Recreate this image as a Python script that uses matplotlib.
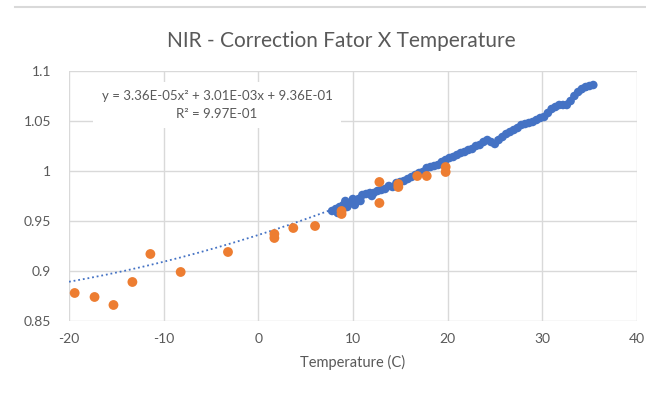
import numpy as np
from matplotlib import pyplot as plt

plt.rcParams['font.family'] = ['Lato', 'DejaVu Sans']
plt.rcParams['axes.unicode_minus'] = False

# blue series (dense measurements)
blue_t = [7.8, 8.2, 8.4, 8.6, 9.0, 9.2, 9.4, 9.8, 10.0, 10.2, 10.6, 10.8, 11.0, 11.4, 11.8,
          12.0, 12.2, 12.6, 13.0, 13.4, 13.8, 14.2, 14.6, 15.0, 15.4, 15.8, 16.2, 16.6,
          17.0, 17.4, 17.8, 18.2, 18.6, 19.0, 19.4, 19.8, 20.2, 20.6, 21.0, 21.4, 21.8,
          22.2, 22.6, 23.0, 23.4, 23.8, 24.2, 24.6, 25.0, 25.4, 25.8, 26.2, 26.6, 27.0,
          27.4, 27.8, 28.2, 28.6, 29.0, 29.4, 29.8, 30.2, 30.6, 31.0, 31.4, 31.8, 32.2,
          32.6, 33.0, 33.4, 33.8, 34.2, 34.6, 35.0, 35.4]
blue_v = [0.960, 0.962, 0.958, 0.964, 0.966, 0.970, 0.964, 0.968, 0.972, 0.966, 0.972, 0.970,
          0.976, 0.977, 0.978, 0.975, 0.978, 0.980, 0.981, 0.982, 0.985, 0.984, 0.988,
          0.989, 0.990, 0.992, 0.994, 0.996, 0.998, 0.999, 1.003, 1.004, 1.005, 1.006,
          1.009, 1.011, 1.013, 1.014, 1.016, 1.018, 1.019, 1.021, 1.022, 1.025, 1.026,
          1.029, 1.031, 1.029, 1.027, 1.031, 1.034, 1.037, 1.039, 1.041, 1.043, 1.046,
          1.047, 1.048, 1.049, 1.051, 1.053, 1.054, 1.058, 1.062, 1.064, 1.066, 1.066,
          1.066, 1.070, 1.075, 1.079, 1.082, 1.084, 1.085, 1.086]

# orange series
orange_t = [-19.4, -17.3, -15.3, -13.3, -11.4, -8.2, -3.2, 1.7, 1.7, 3.7, 6.0, 8.8, 8.8,
            12.8, 12.8, 14.8, 14.8, 16.8, 17.8, 19.8, 19.8]
orange_v = [0.878, 0.874, 0.866, 0.889, 0.917, 0.899, 0.919, 0.937, 0.933, 0.943, 0.945,
            0.960, 0.957, 0.989, 0.968, 0.984, 0.987, 0.995, 0.995, 0.999, 1.004]

# polynomial trendline coefficients (as printed on chart)
coef = [3.36E-05, 3.01E-03, 9.36E-01]
trend_range = [-20, 35.5]

blue = "#4472C4"
orange = "#ED7D31"
gray = "#595959"
grid = "#D9D9D9"

fig = plt.figure(figsize=(6.46, 3.98), dpi=100)
ax = fig.add_axes([0.1068, 0.1935, 0.879, 0.6281])

tt = np.linspace(trend_range[0], trend_range[1], 200)
ax.plot(tt, np.polyval(coef, tt), color=blue, linestyle=(0, (1, 1.6)), linewidth=1.3, zorder=2)
ax.scatter(blue_t, blue_v, s=38, color=blue, edgecolors='none', zorder=3)
ax.scatter(orange_t, orange_v, s=50, color=orange, edgecolors='none', zorder=4)

ax.set_xlim(-20, 40)
ax.set_ylim(0.85, 1.1)
ax.set_xticks([-20, -10, 0, 10, 20, 30, 40])
ax.set_yticks([0.85, 0.9, 0.95, 1.0, 1.05, 1.1])
ax.set_yticklabels(["0.85", "0.9", "0.95", "1", "1.05", "1.1"])
ax.grid(True, color=grid, linewidth=1)
ax.set_axisbelow(True)
for s in ax.spines.values():
    s.set_visible(False)
ax.tick_params(length=0, colors=gray, labelsize=10, pad=9)
ax.tick_params(axis='y', pad=13)
ax.set_xlabel("Temperature (C)", color=gray, fontsize=10.5, labelpad=7)

fig.text(0.529, 0.897, "NIR - Correction Fator X Temperature", color=gray,
         fontsize=15, ha='center', va='center')

fig.text(217 / 646, 1 - 105 / 398, "y = 3.36E-05x² + 3.01E-03x + 9.36E-01\nR² = 9.97E-01",
         color=gray, fontsize=9.5, ha='center', va='center', linespacing=1.6,
         bbox=dict(facecolor='white', edgecolor='none', pad=6), zorder=5)

fig.add_artist(plt.Line2D([15 / 646, 1], [1 - 7 / 398, 1 - 7 / 398], color=grid, linewidth=1.5))

plt.savefig("out.png", dpi=100)
